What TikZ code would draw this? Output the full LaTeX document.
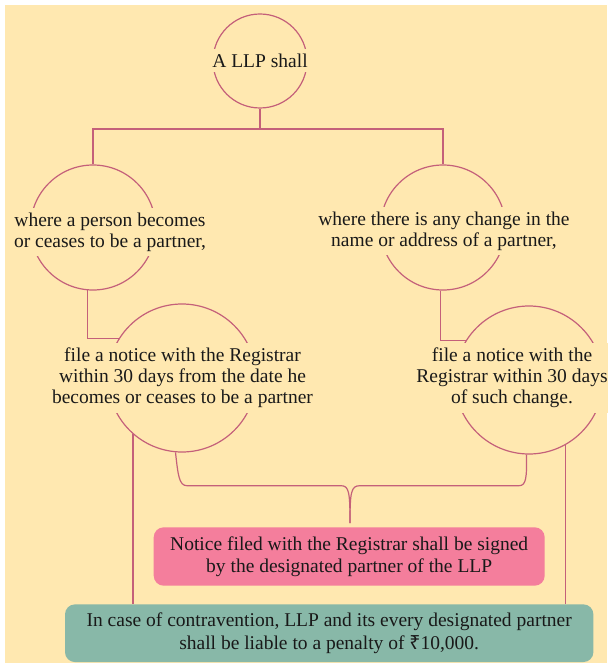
\documentclass[tikz,border=0pt]{standalone}
\usepackage{fontspec}
\setmainfont{Liberation Serif}
\newfontfamily\rupeefont{Noto Sans}
\usetikzlibrary{calc}
\definecolor{cream}{HTML}{FFE8B0}
\definecolor{rose}{HTML}{C4607A}
\definecolor{pinkbox}{HTML}{F47E9C}
\definecolor{greenbox}{HTML}{88B8A8}
\begin{document}
\begin{tikzpicture}[x=1pt,y=-1pt,
  ring/.style={circle,draw=rose,line width=1.2pt,inner sep=0pt,minimum size=#1},
  label/.style={fill=cream,inner xsep=2pt,inner ysep=5pt,align=center,
    font=\fontsize{19.5}{21}\selectfont,text=black!90},
  link/.style={draw=rose,line width=1.2pt},
  panel/.style={rounded corners=10pt,inner sep=0pt,align=center,
    font=\fontsize{19.5}{22.5}\selectfont,text=black!90}]
\useasboundingbox (0,0) rectangle (607,663);
\fill[cream] (5,5) rectangle (607,663);

% rings
\node[ring=94pt]  (c1)  at (260,61)    {};
\node[ring=125pt] (c2l) at (93,227.5)  {};
\node[ring=125pt] (c2r) at (443,227.5) {};
\node[ring=148pt] (c3l) at (182,378)   {};
\node[ring=148pt] (c3r) at (529,380)   {};

% texts laid over the rings
\node[label] (t1)  at (260,60.5) {A LLP shall};
\node[label] (t2l) at (110,232)  {where a person becomes\\or ceases to be a partner,};
\node[label] (t2r) at (444,231)  {where there is any change in the\\name or address of a partner,};
\node[label] (t3l) at (182.5,378) {file a notice with the Registrar\\within 30 days from the date he\\becomes or ceases to be a partner};
\node[label] (t3r) at (512,378)  {file a notice with the\\Registrar within 30 days\\of such change.};

% boxes
\node[panel,fill=pinkbox,minimum width=391pt,minimum height=58.4pt] (pink) at (349.2,556.5)
  {Notice filed with the Registrar shall be signed\\by the designated partner of the LLP};
\node[panel,fill=greenbox,minimum width=528.4pt,minimum height=57.7pt] (green) at (329.2,633.2)
  {In case of contravention, LLP and its every designated partner\\shall be liable to a penalty of {\rupeefont ₹}10,000.};

% tree links
\coordinate (hub) at (260,129);
\draw[link] (c1.south) -- (hub);
\draw[link] (c2l.north) |- (hub) -| (c2r.north);
\draw[link] (c2l.-95) |- (c3l.148);
\draw[link] (c2r.-92) |- (c3r.148);

% side links to the penalty box
\draw[link] (c3l.-131) -- (c3l.-131 |- green.north);
\draw[link] (c3r.-61) -- (c3r.-61 |- green.north);

% brace joining both notices
\coordinate (tip) at ($(pink.north)+(0.8,-4)$);
\draw[link,line join=round] (c3l.-95) .. controls (178,475) and (179,485.7) .. (187,485.7)
  -- (341,485.7) .. controls (349,485.7) and (350,492) .. (tip);
\draw[link,line join=round] (c3r.-92) .. controls (527,478) and (526,485.7) .. (519,485.7)
  -- (360,485.7) .. controls (351,485.7) and (350,492) .. (tip);
\end{tikzpicture}
\end{document}
